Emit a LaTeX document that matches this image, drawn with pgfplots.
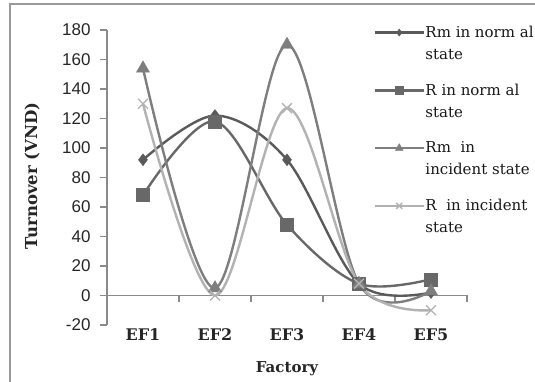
\documentclass[border=0pt]{standalone}
\usepackage{fontspec}
\setmainfont{DejaVu Serif}
\newfontfamily\sansf{Liberation Sans}
\usepackage{pgfplots}
\pgfplotsset{compat=1.18}
\definecolor{cA}{HTML}{5A5A5A}
\definecolor{cB}{HTML}{686868}
\definecolor{cC}{HTML}{7E7E7E}
\definecolor{cD}{HTML}{B2B2B2}
\definecolor{axc}{HTML}{8A8A8A}
\begin{document}
\begin{tikzpicture}[x=1pt,y=1pt]
\useasboundingbox (0,0) rectangle (535,382);
\fill[white] (0,0) rectangle (535,382);
\draw[gray!80, line width=2pt] (10,-2) -- (10,378) -- (537,378);
\begin{axis}[
  at={(107pt,57pt)}, anchor=south west,
  scale only axis, width=360pt, height=295pt,
  xmin=0.5, xmax=5.5, ymin=-20, ymax=180,
  axis lines*=left,
  x axis line style={draw=none},
  y axis line style={draw=axc, line width=1.6pt},
  xtick={1,2,3,4,5},
  xticklabels={EF1,EF2,EF3,EF4,EF5},
  xtick style={draw=none},
  xticklabel style={font=\bfseries\fontsize{16}{16}\selectfont, anchor=center, yshift=-3pt, text=black!85},
  ytick={-20,0,...,180},
  ytick style={draw=axc, line width=1.4pt},
  tick align=outside,
  major tick length=7pt,
  yticklabel style={font=\sansf\fontsize{17}{17}\selectfont, xshift=-6pt, text=black!85},
  /pgf/number format/assume math mode=true,
  xlabel={Factory},
  xlabel style={font=\bfseries\fontsize{15}{15}\selectfont, at={(axis description cs:0.5,-0.149)}, anchor=center, text=black!85},
  ylabel={Turnover (VND)},
  ylabel style={font=\bfseries\fontsize{16.5}{16.5}\selectfont, at={(axis description cs:-0.208,0.505)}, anchor=center, text=black!85},
  clip=false,
  legend style={at={(axis description cs:0.733,1.024)}, anchor=north west, draw=none, fill=none,
    font=\fontsize{15}{22}\selectfont, row sep=21pt, text=black!90,
    nodes={align=left, inner sep=1pt}},
  legend cell align=left,
  legend image code/.code={%
    \path (0pt,-14pt) (0pt,14pt);
    \draw[mark repeat=2,mark phase=2,/tikz/every mark/.append style={scale=0.6}] plot coordinates {(0pt,11pt) (24pt,11pt) (48pt,11pt)};},
  every axis plot/.append style={line width=2.4pt, smooth, tension=0.55},
]
\draw[axc, line width=1.6pt] (axis cs:0.5,0) -- (axis cs:5.5,0);
\draw[axc, line width=1.4pt] (axis cs:1.5,0) -- ([yshift=-7pt]axis cs:1.5,0);
\draw[axc, line width=1.4pt] (axis cs:2.5,0) -- ([yshift=-7pt]axis cs:2.5,0);
\draw[axc, line width=1.4pt] (axis cs:3.5,0) -- ([yshift=-7pt]axis cs:3.5,0);
\draw[axc, line width=1.4pt] (axis cs:4.5,0) -- ([yshift=-7pt]axis cs:4.5,0);
\draw[axc, line width=1.4pt] (axis cs:5.5,0) -- ([yshift=-7pt]axis cs:5.5,0);
\addplot[color=cA, mark=diamond*, mark size=6pt, mark options={solid, fill=cA, line width=0.4pt}]
  coordinates {(1,92) (2,122) (3,92) (4,8) (5,2)};
\addlegendentry{Rm in norm al\\state}
\addplot[color=cB, mark=square*, mark size=6.5pt, mark options={solid, fill=cB, line width=0.4pt}]
  coordinates {(1,68) (2,118) (3,48) (4,8) (5,11)};
\addlegendentry{R in norm al\\state}
\addplot[color=cC, mark=triangle*, mark size=7.5pt, mark options={solid, fill=cC, line width=0.4pt}]
  coordinates {(1,154) (2,5) (3,170) (4,8) (5,3)};
\addlegendentry{Rm \ in\\incident state}
\addplot[color=cD, mark=x, mark size=7pt, mark options={solid, line width=1.4pt}]
  coordinates {(1,130) (2,0) (3,127) (4,8) (5,-10)};
\addlegendentry{R \ in incident\\state}
\end{axis}
\end{tikzpicture}
\end{document}
